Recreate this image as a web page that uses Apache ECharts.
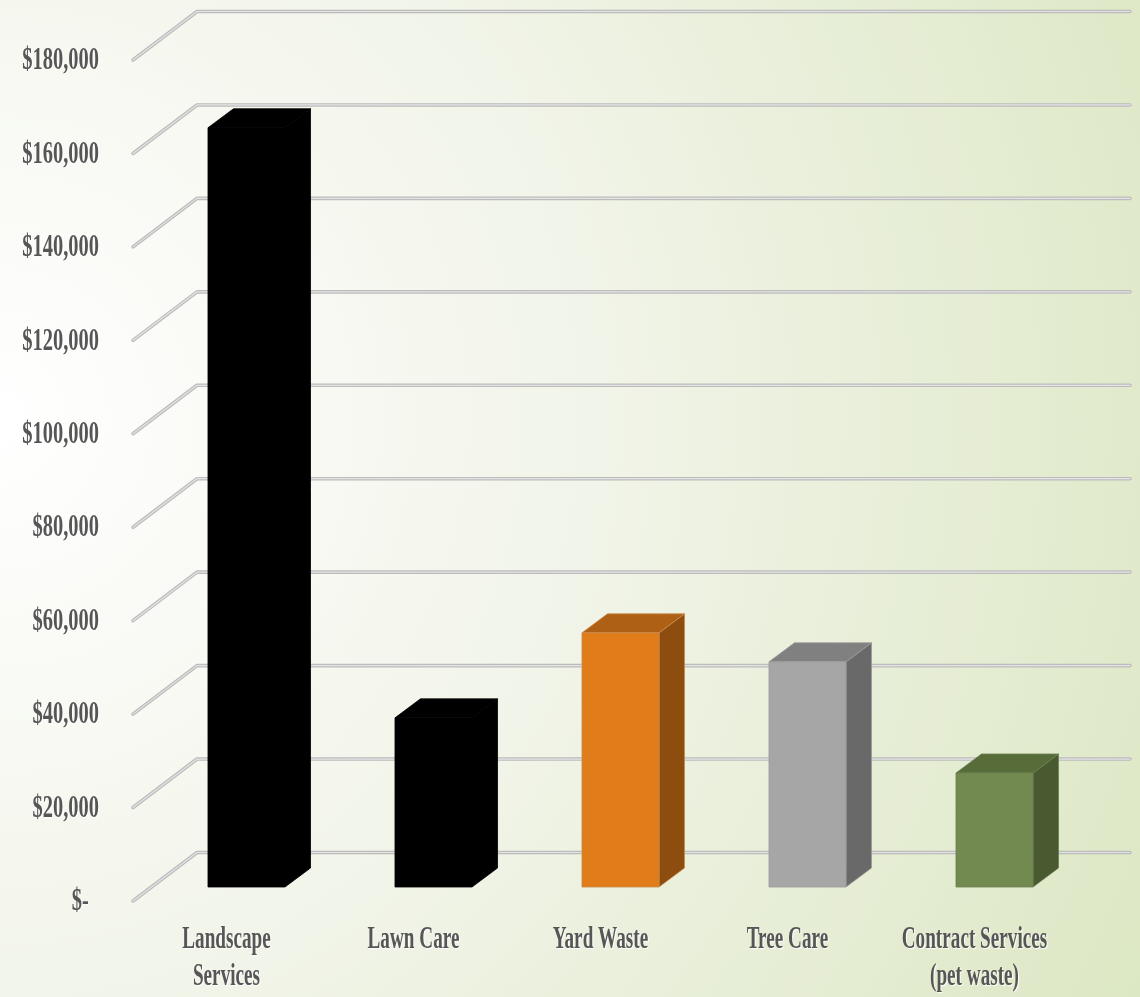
<!DOCTYPE html>
<html>
<head>
<meta charset="utf-8">
<script src="https://cdn.jsdelivr.net/npm/echarts@6/dist/echarts.min.js"></script>
<style>
html,body{margin:0;padding:0;width:1140px;height:997px;overflow:hidden;}
#chart{width:1140px;height:997px;}
</style>
</head>
<body>
<div id="chart"></div>
<script>
// ---- data ----
const categories = ['Landscape\nServices', 'Lawn Care', 'Yard Waste', 'Tree Care', 'Contract Services\n(pet waste)'];
const values = [162500, 36200, 54400, 48200, 24400];
const yTickValues = [0, 20000, 40000, 60000, 80000, 100000, 120000, 140000, 160000, 180000];
const yTickLabels = ['$-  ', '$20,000', '$40,000', '$60,000', '$80,000', '$100,000', '$120,000', '$140,000', '$160,000', '$180,000'];

// ---- styles ----
const barPalette = [
  { front: '#000000', top: '#000000', side: '#000000', edge: '#000000' },
  { front: '#000000', top: '#000000', side: '#000000', edge: '#000000' },
  { front: '#E07C19', top: '#AE6014', side: '#8C4D0E', edge: '#c98a4a' },
  { front: '#A6A6A6', top: '#808080', side: '#696969', edge: '#9a9a9a' },
  { front: '#728A50', top: '#576C39', side: '#4A5A30', edge: '#6c7f52' }
];
const FONT = '"Liberation Serif", "DejaVu Serif", serif';
const Y_SCALE_X = 0.64;
const X_SCALE_X = 0.6;
const DEPTH_DX = 64, DEPTH_DY = 48.5;       // floor depth (front -> back wall)
const BAR_DX = 25.5, BAR_DY = 19;           // bar depth
const BAR_LIFT = 14;                        // bar front face sits behind floor front

const chart = echarts.init(document.getElementById('chart'));

const textStyleBase = {
  fill: '#565656',
  fontFamily: FONT,
  fontWeight: 'bold',
  fontSize: 32,
  textShadowColor: 'rgba(255,255,255,0.95)',
  textShadowOffsetX: 1,
  textShadowOffsetY: 1,
  textShadowBlur: 1
};

const option = {
  animation: false,
  backgroundColor: {
    type: 'radial', x: 0, y: 0.42, r: 1.35,
    colorStops: [
      { offset: 0, color: '#ffffff' },
      { offset: 0.45, color: '#f1f4e8' },
      { offset: 1, color: '#dae6c0' }
    ]
  },
  grid: { left: 133, right: 72, top: 60, bottom: 96, containLabel: false },
  xAxis: {
    type: 'category', data: categories, show: false
  },
  yAxis: {
    type: 'value', min: 0, max: 180000, interval: 20000, show: false
  },
  series: [
    // gridlines (perspective: floor front -> back wall)
    {
      type: 'custom', z: 1, silent: true,
      data: yTickValues.map(v => [0, v]),
      renderItem: function (params, api) {
        const cs = params.coordSys;
        const y = api.coord([0, api.value(1)])[1];
        const pts = [[cs.x, y], [cs.x + DEPTH_DX, y - DEPTH_DY], [cs.x + cs.width + 62, y - DEPTH_DY]];
        return {
          type: 'group',
          children: [
            { type: 'polyline', shape: { points: pts }, style: { stroke: '#bcbcbc', lineWidth: 3.6, fill: null, lineCap: 'round', lineJoin: 'round' } },
            { type: 'polyline', shape: { points: pts }, style: { stroke: '#e4e4e4', lineWidth: 1.2, fill: null, lineCap: 'round', lineJoin: 'round' } }
          ]
        };
      }
    },
    // 3D bars
    {
      type: 'custom', z: 3,
      data: values.map((v, i) => [i, v]),
      renderItem: function (params, api) {
        const i = api.value(0);
        const c = api.coord([i, api.value(1)]);
        const b = api.coord([i, 0]);
        const band = api.size([1, 0])[0];
        const xl = c[0] - 0.099 * band;
        const xr = xl + 0.412 * band;
        const yt = c[1] - BAR_LIFT;
        const yb = b[1] - BAR_LIFT;
        const col = barPalette[i];
        const edge = { stroke: col.edge, lineWidth: 0.8, lineJoin: 'round' };
        return {
          type: 'group',
          children: [
            { type: 'polygon', shape: { points: [[xr, yt], [xr + BAR_DX, yt - BAR_DY], [xr + BAR_DX, yb - BAR_DY], [xr, yb]] },
              style: Object.assign({ fill: col.side }, edge) },
            { type: 'polygon', shape: { points: [[xl, yt], [xr, yt], [xr + BAR_DX, yt - BAR_DY], [xl + BAR_DX, yt - BAR_DY]] },
              style: Object.assign({ fill: col.top }, edge) },
            { type: 'rect', shape: { x: xl, y: yt, width: xr - xl, height: yb - yt },
              style: Object.assign({ fill: col.front }, edge) }
          ]
        };
      }
    },
    // y-axis tick labels (condensed serif)
    {
      type: 'custom', z: 4, silent: true,
      data: yTickValues.map((v, i) => [0, v, i]),
      renderItem: function (params, api) {
        const cs = params.coordSys;
        const y = api.coord([0, api.value(1)])[1];
        return {
          type: 'text',
          x: cs.x - 34, y: y + 1,
          scaleX: Y_SCALE_X,
          style: Object.assign({
            text: yTickLabels[api.value(2)], x: 0, y: 0,
            align: 'right', verticalAlign: 'middle'
          }, textStyleBase)
        };
      }
    },
    // category labels
    {
      type: 'custom', z: 4, silent: true,
      data: categories.map((c, i) => [i, 0]),
      renderItem: function (params, api) {
        const i = api.value(0);
        const p = api.coord([i, 0]);
        return {
          type: 'text',
          x: p[0], y: p[1] + 20,
          scaleX: X_SCALE_X,
          style: Object.assign({
            text: categories[i], x: 0, y: 0,
            align: 'center', verticalAlign: 'top', lineHeight: 37
          }, textStyleBase)
        };
      }
    }
  ]
};

chart.setOption(option);
</script>
</body>
</html>
